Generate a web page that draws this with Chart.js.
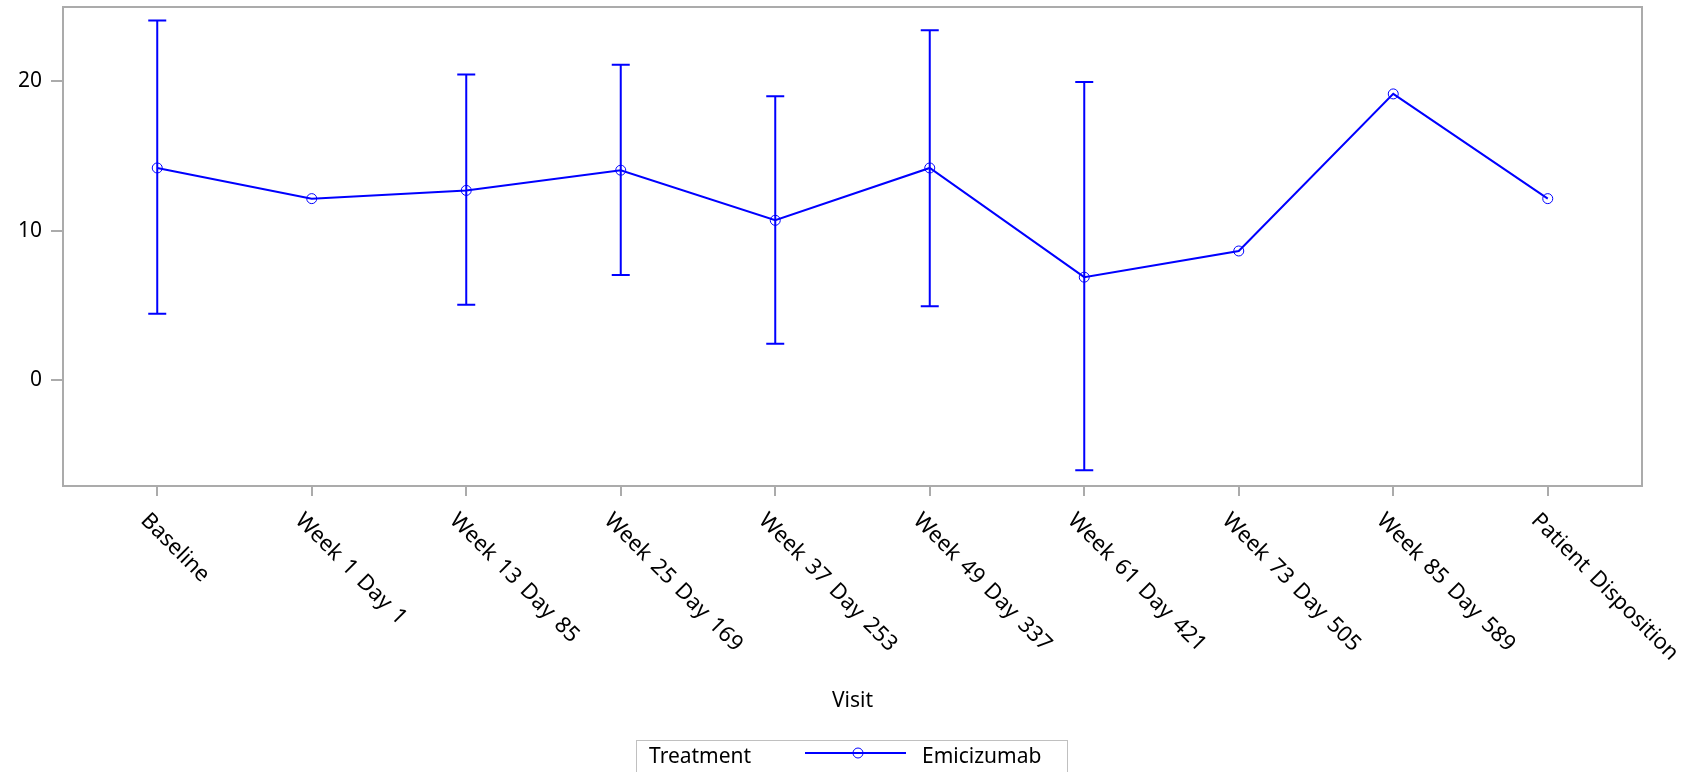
<!DOCTYPE html>
<html>
<head>
<meta charset="utf-8">
<script src="https://cdn.jsdelivr.net/npm/chart.js@4"></script>
<style>
  html, body { margin: 0; padding: 0; background: #fff; }
  canvas { display: block; }
</style>
</head>
<body>
<canvas id="visitChart" width="1686" height="772"></canvas>
<script>
const visits = ['Baseline', 'Week 1 Day 1', 'Week 13 Day 85', 'Week 25 Day 169', 'Week 37 Day 253',
    'Week 49 Day 337', 'Week 61 Day 421', 'Week 73 Day 505', 'Week 85 Day 589', 'Patient Disposition'];
const means = [14.2, 12.15, 12.7, 14.05, 10.7, 14.2, 6.9, 8.65, 19.15, 12.15];
const upper = [24.05, null, 20.45, 21.1, 19.0, 23.4, 19.95, null, null, null];
const lower = [4.45, null, 5.05, 7.05, 2.45, 4.95, -6.0, null, null, null];
const yTicks = [0, 10, 20];

const BLUE = '#0000ff';
const GREY = '#ababab';
const FONT = '"Noto Sans", "DejaVu Sans", sans-serif';

const extras = {
    id: 'extras',
    afterDatasetsDraw(chart) {
        const ctx = chart.ctx;
        const xs = chart.scales.x, ys = chart.scales.y;
        // error bars
        ctx.save();
        ctx.strokeStyle = BLUE;
        ctx.lineWidth = 2;
        for (let i = 0; i < visits.length; i++) {
            if (upper[i] == null) continue;
            const px = xs.getPixelForValue(i);
            const top = ys.getPixelForValue(upper[i]);
            const bot = ys.getPixelForValue(lower[i]);
            ctx.beginPath();
            ctx.moveTo(px, top); ctx.lineTo(px, bot);
            ctx.moveTo(px - 9, top); ctx.lineTo(px + 9, top);
            ctx.moveTo(px - 9, bot); ctx.lineTo(px + 9, bot);
            ctx.stroke();
        }
        ctx.restore();
    },
    afterDraw(chart) {
        const ctx = chart.ctx;
        const a = chart.chartArea;
        const xs = chart.scales.x;
        ctx.save();
        // frame
        ctx.strokeStyle = GREY;
        ctx.lineWidth = 2;
        ctx.strokeRect(a.left, a.top, a.right - a.left, a.bottom - a.top);

        // rotated category labels
        ctx.fillStyle = '#000';
        ctx.font = '22px ' + FONT;
        ctx.wordSpacing = '3px';
        ctx.textAlign = 'left';
        ctx.textBaseline = 'middle';
        visits.forEach((v, i) => {
            const px = xs.getPixelForValue(i);
            ctx.save();
            ctx.translate(px - 13, a.bottom + 31);
            ctx.rotate(Math.PI / 4);
            ctx.fillText(v, 0, 0);
            ctx.restore();
        });
        ctx.wordSpacing = '0px';

        // axis title
        ctx.font = '21px ' + FONT;
        ctx.textAlign = 'center';
        ctx.fillText('Visit', (a.left + a.right) / 2, 701);

        // legend
        ctx.strokeStyle = '#c0c0c0';
        ctx.lineWidth = 1;
        ctx.strokeRect(636.5, 740.5, 431, 32);
        ctx.textAlign = 'left';
        ctx.fillText('Treatment', 649, 757);
        ctx.strokeStyle = BLUE;
        ctx.lineWidth = 2;
        ctx.beginPath();
        ctx.moveTo(805, 753); ctx.lineTo(906, 753);
        ctx.stroke();
        ctx.lineWidth = 1;
        ctx.beginPath();
        ctx.arc(858, 753, 5, 0, Math.PI * 2);
        ctx.stroke();
        ctx.fillText('Emicizumab', 922, 757);
        ctx.restore();
    }
};

new Chart(document.getElementById('visitChart').getContext('2d'), {
    type: 'line',
    data: {
        datasets: [{
            label: 'Emicizumab',
            data: means.map((m, i) => ({ x: i, y: m })),
            borderColor: BLUE,
            borderWidth: 2,
            pointRadius: 5,
            pointBorderWidth: 1,
            pointBorderColor: BLUE,
            pointBackgroundColor: 'rgba(0,0,0,0)',
            tension: 0
        }]
    },
    options: {
        responsive: false,
        animation: false,
        layout: { padding: { top: 7, right: 44, left: 0, bottom: 0 } },
        plugins: { legend: { display: false }, tooltip: { enabled: false } },
        scales: {
            x: {
                type: 'linear',
                min: -0.61,
                max: 9.61,
                afterBuildTicks: s => { s.ticks = visits.map((_, i) => ({ value: i })); },
                afterFit: s => { s.height = 286; s.paddingLeft = 0; s.paddingRight = 0; },
                ticks: { display: false },
                border: { display: false },
                grid: { drawOnChartArea: false, drawTicks: true, tickLength: 10, color: GREY, lineWidth: 2 }
            },
            y: {
                min: -7.06,
                max: 24.96,
                afterBuildTicks: s => { s.ticks = yTicks.map(v => ({ value: v })); },
                afterFit: s => { s.width = 63; s.paddingTop = 0; s.paddingBottom = 0; },
                ticks: { color: '#000', padding: 9, font: { family: FONT, size: 21 } },
                border: { display: false },
                grid: { drawOnChartArea: false, drawTicks: true, tickLength: 12, color: GREY, lineWidth: 2 }
            }
        }
    },
    plugins: [extras]
});
</script>
</body>
</html>
